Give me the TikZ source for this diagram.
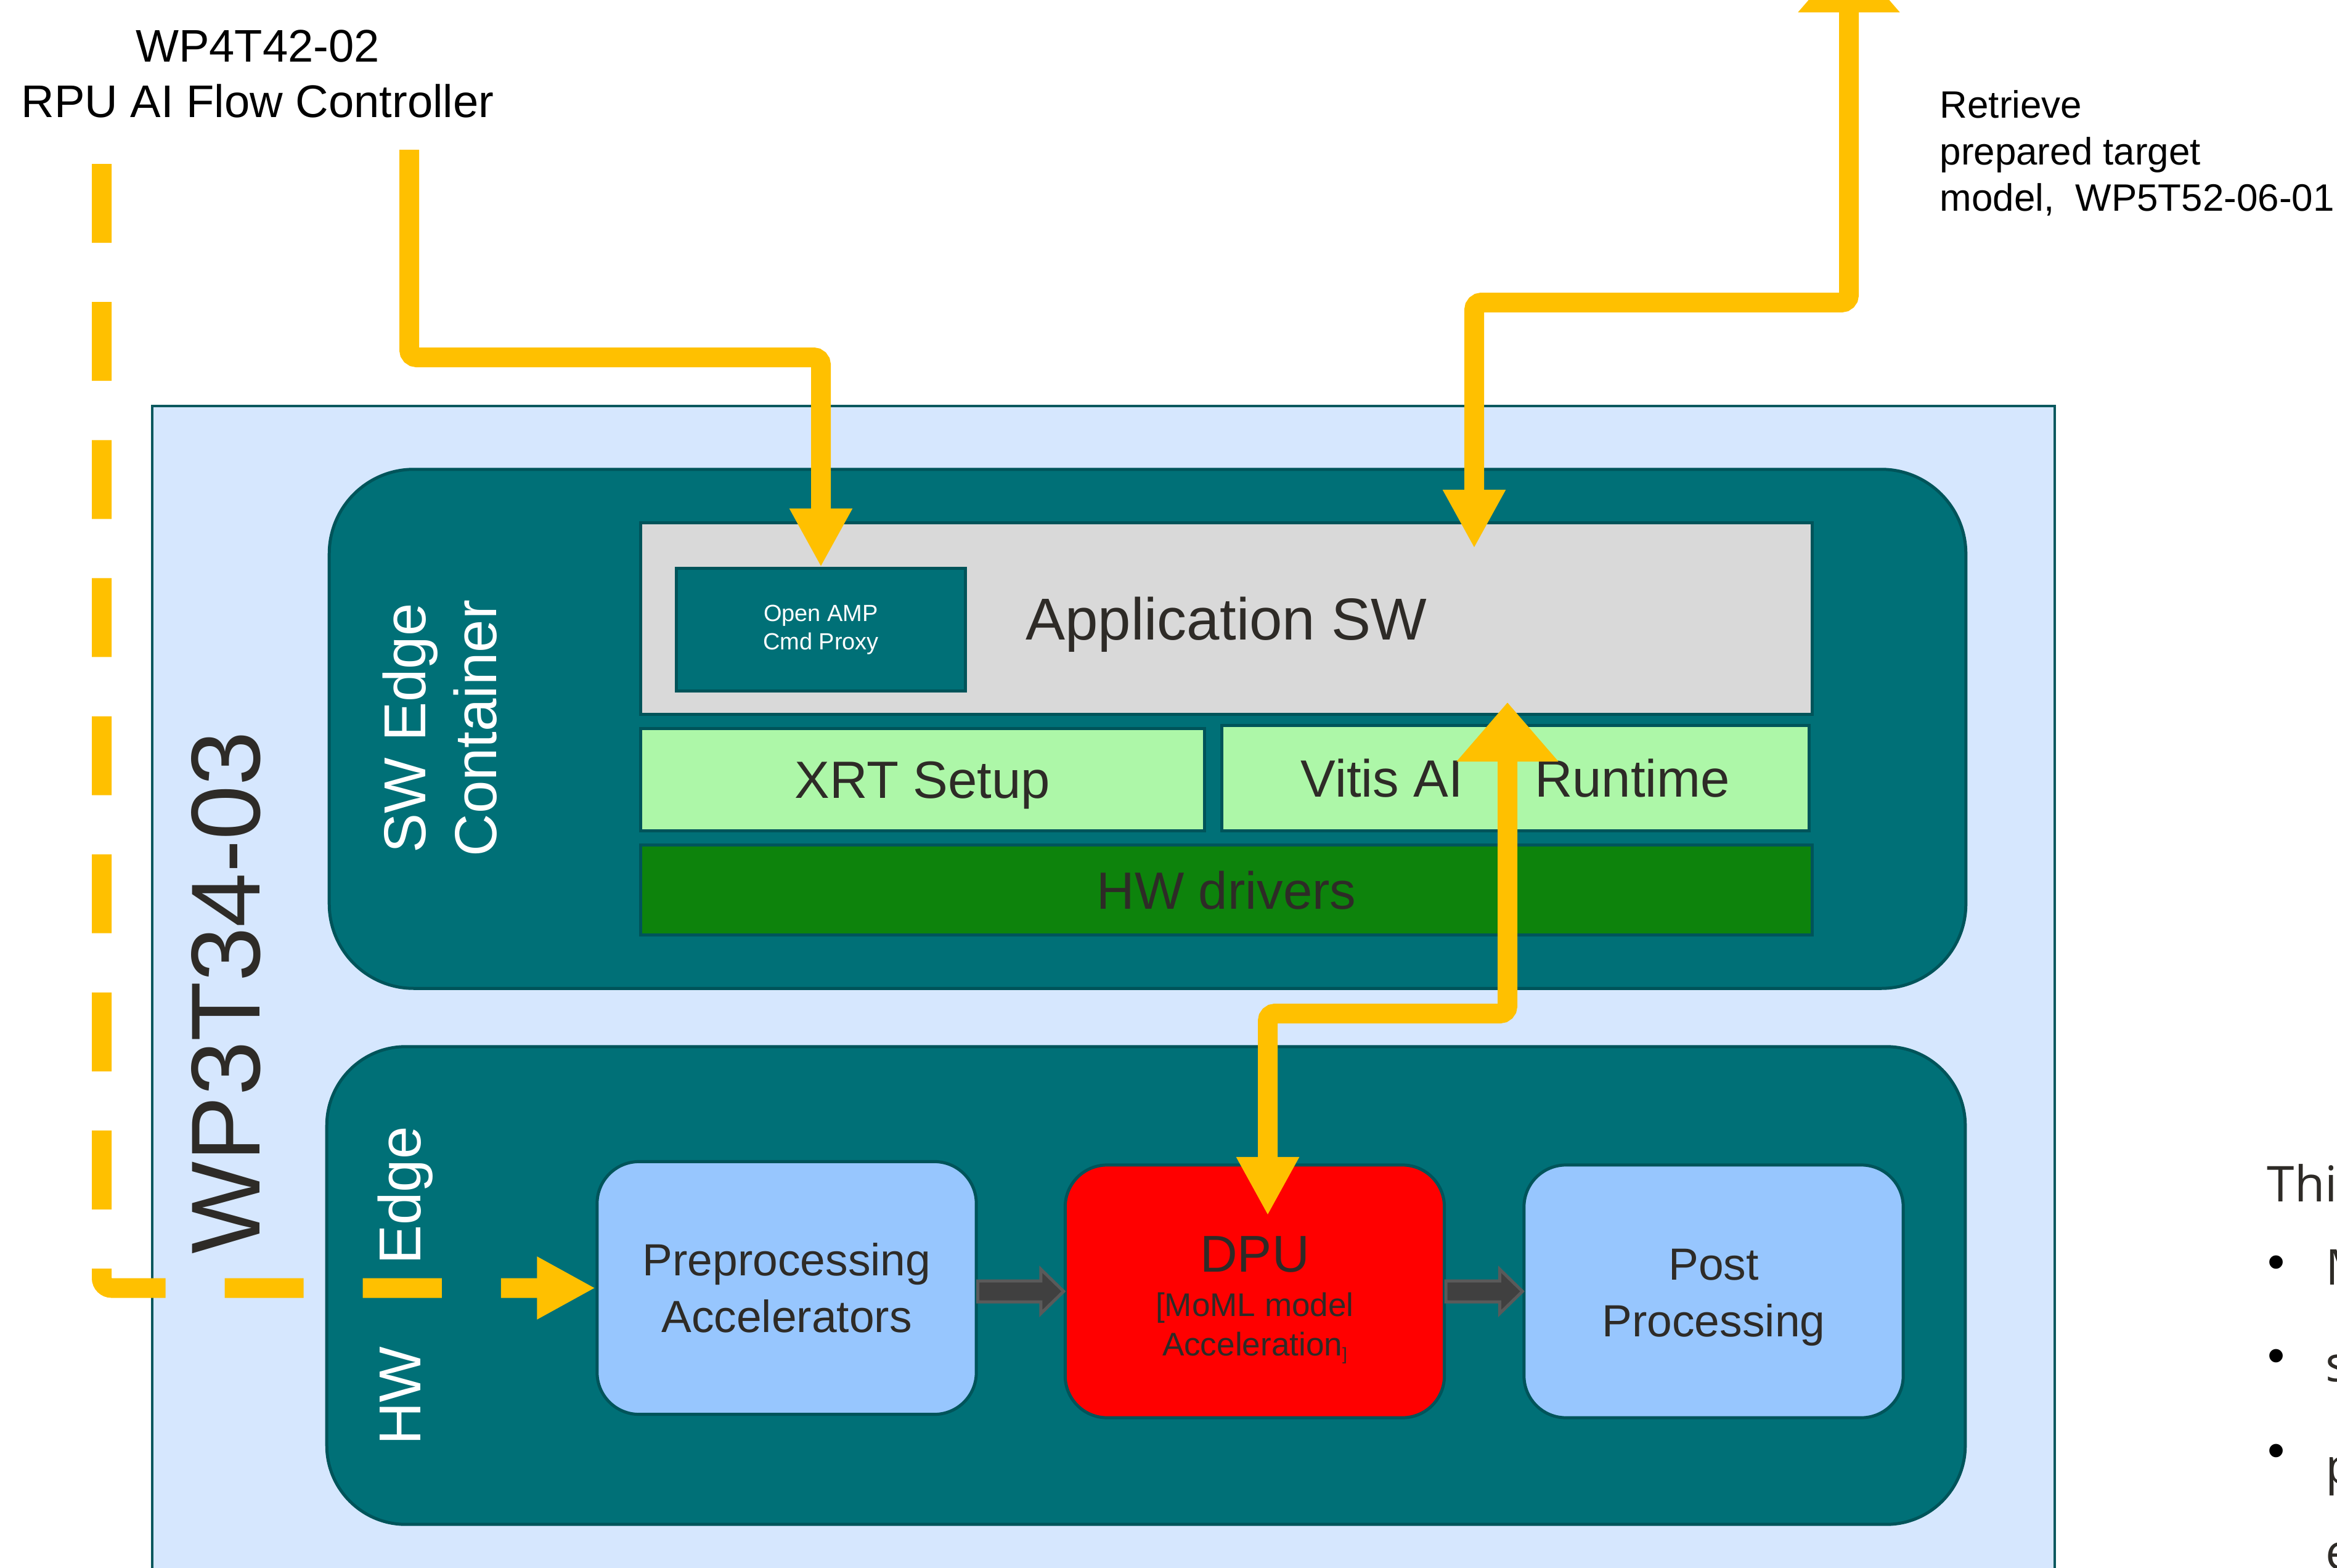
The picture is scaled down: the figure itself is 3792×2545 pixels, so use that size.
\documentclass[tikz,border=0pt]{standalone}
\usepackage{fontspec}
\setmainfont{Liberation Sans}
\newfontfamily\notefont{Open Sans}
\usetikzlibrary{arrows.meta}
\usetikzlibrary{calc}

\definecolor{flowyellow}{HTML}{FFC000}
\definecolor{wpfill}{HTML}{D6E7FE}
\definecolor{wpline}{HTML}{0B585E}
\definecolor{tealfill}{HTML}{007077}
\definecolor{tealline}{HTML}{00545A}
\definecolor{appgray}{HTML}{D9D9D9}
\definecolor{xrtgreen}{HTML}{ADF7A8}
\definecolor{drvgreen}{HTML}{0D830C}
\definecolor{procblue}{HTML}{97C6FE}
\definecolor{dpured}{HTML}{FF0000}
\definecolor{darktext}{HTML}{2E2B27}
\definecolor{arrowdark}{HTML}{404040}
\definecolor{arrowline}{HTML}{5A5A5A}

\newcommand{\setfs}[2]{\fontsize{#1}{#2}\selectfont}
% fat grey arrow between two blocks
\newcommand{\blockarrow}[2]{%
  \draw[blockarr] ($(#1 |- #2)+(0,-17)$) -- ($(#2)+(-37,-17)$) -- ($(#2)+(-37,-36)$)
    -- (#2) -- ($(#2)+(-37,36)$) -- ($(#2)+(-37,17)$) -- ($(#1 |- #2)+(0,17)$) -- cycle;}

\tikzset{
  flowhead/.tip={Triangle[length=0.95cm,width=0.95cm]},
  bighead/.tip={Triangle[length=0.96cm,width=1.59cm]},
}

\begin{document}
\begin{tikzpicture}[x=0.01cm, y=-0.01cm, inner sep=0pt,
  wpbox/.style={draw=wpline, fill=wpfill, line width=1.14pt, anchor=north west},
  edgebox/.style={draw=tealline, fill=tealfill, line width=1.42pt},
  layer/.style={draw=tealline, line width=1.42pt, text=darktext, text depth=0pt},
  procbox/.style={draw=tealline, line width=1.42pt, rounded corners=0.68cm,
    align=center, text=darktext, minimum width=6.15cm, minimum height=4.1cm},
  sidelabel/.style={rotate=90, text=white, font=\setfs{27.3}{32.7}},
  flow/.style={draw=flowyellow, line width=9.1pt, rounded corners=0.12cm},
  blockarr/.style={fill=arrowdark, draw=arrowline, line width=1.42pt},
  notetext/.style={text=darktext, font=\notefont\setfs{22.8}{27}}]
\path[use as bounding box, clip] (0,0) rectangle (3792,2545);

%%% Draws outer task box
\node[wpbox, minimum width=30.85cm, minimum height=19.6cm] (wp) at (245,657) {};
\node[rotate=90, anchor=base, text=darktext, font=\setfs{45.2}{54}] (wplabel) at (421,1611) {WP3T34-03};

%%% Draws SW edge container
\node[edgebox, rounded corners=1.37cm, minimum width=26.54cm, minimum height=8.42cm] (swc) at (1862,1183) {};
\node[sidelabel, align=center] (swlabel) at (714,1182) {SW Edge\\Container};
% draws layers
\node[layer, fill=appgray, minimum width=19cm, minimum height=3.1cm, font=\setfs{27.3}{32}] (app) at (1990,1004) {Application SW};
\node[draw=tealline, fill=tealfill, line width=1.42pt, text=white, align=center,
  minimum width=4.68cm, minimum height=1.98cm, font=\setfs{10.8}{13.1}] (amp) at (1332,1022) {Open AMP\\Cmd Proxy};
\node[layer, fill=xrtgreen, minimum width=9.14cm, minimum height=1.65cm, font=\setfs{24.2}{29}] (xrt) at (1497,1265.5) {XRT Setup};
\node[layer, fill=xrtgreen, minimum width=9.52cm, minimum height=1.7cm, font=\setfs{24.2}{29}] (vitis) at (2459,1263) {Vitis AI\hspace{33pt}Runtime};
\node[layer, fill=drvgreen, minimum width=19cm, minimum height=1.45cm, font=\setfs{24.2}{29}] (drv) at (1990,1444.5) {HW drivers};

%%% Draws HW edge container
\node[edgebox, rounded corners=1.28cm, minimum width=26.57cm, minimum height=7.75cm] (hwc) at (1859.5,2086.5) {};
\node[sidelabel, anchor=base] (hwlabel) at (682,2087) {HW\hspace{38pt}Edge};
% draws processing blocks
\node[procbox, fill=procblue, font=\setfs{20.8}{26.2}] (pre) at (1276.5,2090.5) {Preprocessing\\Accelerators};
\node[procbox, fill=dpured, font=\setfs{15.1}{18.2}] (dpu) at (2036,2096)
  {{\setfs{23.9}{28}\rule{0pt}{24.2pt}DPU}\\[2.3pt][MoML model\\Acceleration\raisebox{-2pt}{\setfs{8}{9}]}};
\node[procbox, fill=procblue, font=\setfs{20.8}{26.2}] (post) at (2780.5,2096) {\rule{0pt}{19.7pt}Post\\Processing};
% draws grey arrows
\blockarrow{pre.east}{dpu.west}
\blockarrow{dpu.east}{post.west}

%%% Draws outside labels
\node[anchor=north, align=center, font=\setfs{21.1}{25.6}] (ctrl) at (418,48) {WP4T42-02\\RPU AI Flow Controller};
\node[anchor=north west, align=left, font=\setfs{17.6}{21.5}] (model) at (3147,146) {Retrieve\\prepared target\\model,\ \ WP5T52-06-01};

%%% Draws yellow flows
% free ends
\coordinate (ctrlout) at (165,266);
\coordinate (rpuout) at (664,243);
\coordinate (modelout) at (3000,-76);
\coordinate (appin) at (2392,890);
\coordinate (vitisup) at (2446,1140);
\coordinate (dpuin) at (2057,1973);
% draws arrows
\draw[flow, -{flowhead}] (rpuout) -- ++(0,337) -| (amp.north);
\draw[flow, {bighead}-{flowhead}] (modelout) -- ++(0,567) -| (appin);
\draw[flow, {bighead}-{flowhead}] (vitisup) -- ++(0,505) -| (dpuin);
\draw[flow, rounded corners=0.16cm, dash pattern=on 1.28cm off 0.96cm, -{flowhead}] (ctrlout) |- (pre.west);

%%% Draws cut-off note on the right
\node[anchor=base west, notetext] (note) at (3678,1950) {This};
\node[font=\setfs{22.8}{27}] (dot1) at (3694,2057) {•};
\node[font=\setfs{22.8}{27}] (dot2) at (3694,2209) {•};
\node[font=\setfs{22.8}{27}] (dot3) at (3694,2363) {•};
\node[anchor=base west, notetext] (item1) at (3773,2085) {M};
\node[anchor=base west, notetext] (item2) at (3773,2242) {s};
\node[anchor=base west, notetext] (item3) at (3773,2408) {p};
\node[anchor=base west, notetext] (item4) at (3773,2547) {e};
\end{tikzpicture}
\end{document}
